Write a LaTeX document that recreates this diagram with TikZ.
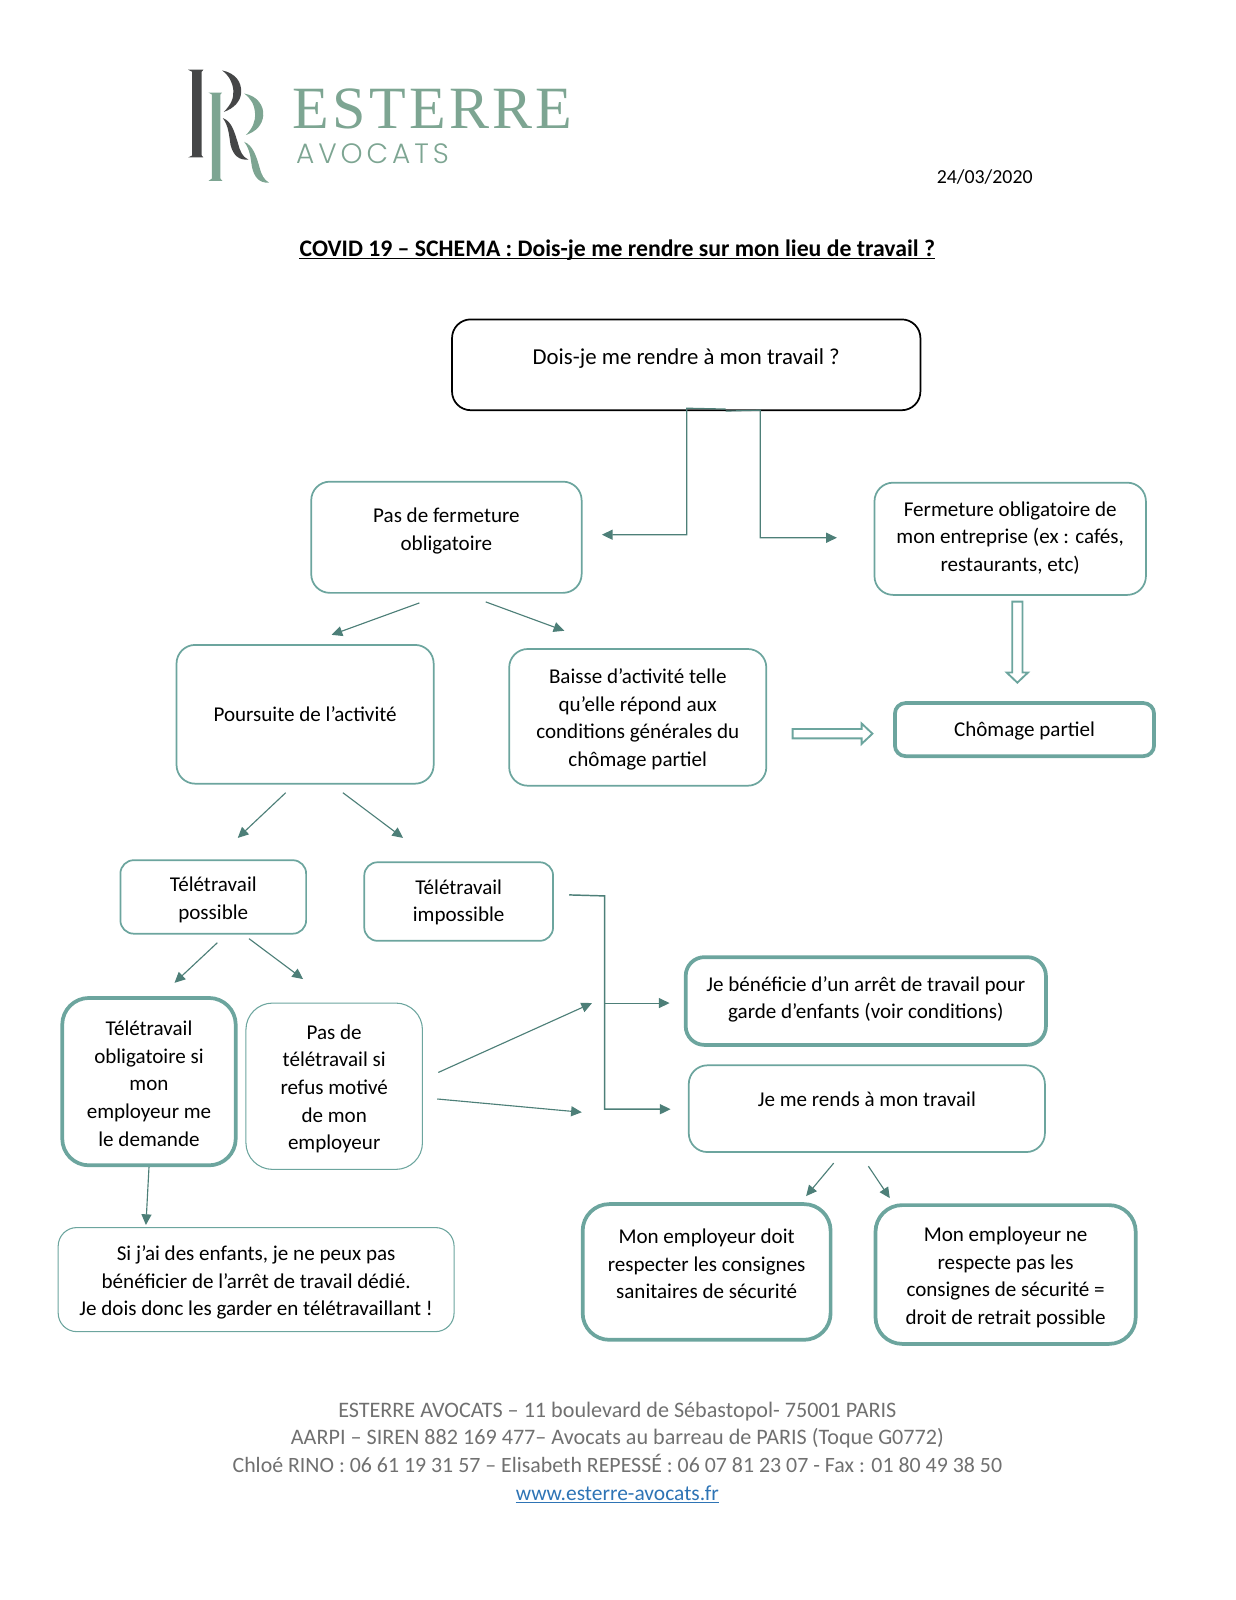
\documentclass[tikz,border=0pt]{standalone}
\usepackage{fontspec}
\setmainfont{Carlito}
\newfontfamily\logoserif[LetterSpace=5.5]{Liberation Serif}
\newfontfamily\logosans[LetterSpace=14,UprightFont=* Light]{Poppins}
\usetikzlibrary{arrows.meta,calc}
\definecolor{teal1}{HTML}{6CA59E}
\definecolor{arrowc}{HTML}{4D7F78}
\definecolor{logog}{HTML}{7DA592}
\definecolor{logod}{HTML}{454647}
\definecolor{footg}{HTML}{707070}
\definecolor{linkb}{HTML}{2E74B5}
% \bx[style]{name}{x1}{y1}{x2}{y2}{text shift}{text}
\newcommand{\bx}[8][]{%
  \node[#1,minimum width={(#5-#3)*0.7654pt},minimum height={(#6-#4)*0.7654pt},
        label={[txt,yshift={-(#7)*0.7654pt}]center:{#8}}] (#2) at ({(#3+#5)/2},{(#4+#6)/2}) {};}
\tikzset{
  base/.style={draw,rounded corners=14pt,inner sep=0pt,line width=1.1pt},
  thin box/.style={base,draw=teal1,line width=1.3pt},
  hair box/.style={base,draw=teal1,line width=0.8pt},
  thick box/.style={base,draw=teal1,line width=2.8pt},
  black box/.style={base,draw=black,line width=1.3pt},
  txt/.style={align=center,inner sep=0pt,text=black,font=\fontsize{15.8}{20.7}\selectfont},
  arr/.style={draw=arrowc,line width=0.85pt,-{Triangle[length=8pt,width=7.5pt]}},
  hollow/.style={draw=teal1,line width=1.4pt,fill=white,line join=miter},
  foot/.style={anchor=base,text=footg,font=\fontsize{16.6}{20}\selectfont,inner sep=0pt},
}
\begin{document}
\begin{tikzpicture}[x=0.7654pt,y=-0.7654pt]
\useasboundingbox (0,0) rectangle (1211,1568);
% logo
\begin{scope}[shift={(156.0,49)},x=0.2551pt,y=-0.2551pt]
  \fill[logod] (85,58) -- (130,58) -- (125,64) -- (125,310) -- (130,316) -- (85,316) -- (97,310) -- (97,64) -- cycle;
  \fill[logod] (185,60) .. controls (225,68) and (243,95) .. (241,125) .. controls (240,150) and (220,172) .. (190,182) .. controls (212,160) and (220,140) .. (218,118) .. controls (216,95) and (205,75) .. (185,60) -- cycle;
  \fill[logod] (187,200) .. controls (215,210) and (222,245) .. (232,275) .. controls (238,298) and (245,315) .. (262,322) .. controls (235,325) and (218,310) .. (210,280) .. controls (205,250) and (205,225) .. (187,200) -- cycle;
  \fill[logog] (145,125) -- (185,125) -- (180,131) -- (180,378) -- (186,385) -- (145,385) -- (155,378) -- (155,131) -- cycle;
  \fill[logog] (250,128) .. controls (290,135) and (308,165) .. (306,192) .. controls (304,220) and (285,240) .. (255,250) .. controls (275,230) and (283,210) .. (282,187) .. controls (280,160) and (270,143) .. (250,128) -- cycle;
  \fill[logog] (250,270) .. controls (275,280) and (285,310) .. (295,345) .. controls (300,365) and (308,382) .. (323,390) .. controls (295,392) and (280,375) .. (273,345) .. controls (268,315) and (268,295) .. (250,270) -- cycle;
\end{scope}
\node[inner sep=0pt,text=logog,font=\logoserif\fontsize{45}{45}\selectfont] (logoname) at (424,107) {ESTERRE};
\node[inner sep=0pt,text=logog,font=\logosans\fontsize{21}{21}\selectfont] (logosub) at (365,151) {AVOCATS};
% heading
\node[anchor=base,font=\fontsize{14.9}{20}\selectfont,inner sep=0pt] (date) at (965,180) {24/03/2020};
\node[anchor=base,font=\fontsize{17.8}{20}\selectfont\bfseries,inner sep=0pt] (title) at (605,251) {COVID 19 – SCHEMA : Dois-je me rendre sur mon lieu de travail ?};
\draw[line width=0.9pt] ([yshift=-2pt]title.base west) -- ([yshift=-2pt]title.base east);
% boxes
\bx[black box]{top}{443}{313}{902}{402}{-6}{\fontsize{17.1}{20.7}\selectfont Dois-je me rendre à mon travail ?}
\bx[thin box]{pasferm}{305}{472}{570}{581}{-6}{Pas de fermeture\\obligatoire}
\bx[thin box]{ferm}{857}{473}{1123}{583}{-1}{Fermeture obligatoire de\\mon entreprise (ex : cafés,\\restaurants, etc)}
\bx[thin box]{pours}{173}{632}{425}{768}{0}{Poursuite de l’activité}
\bx[thin box]{baisse}{499}{636}{751}{770}{2}{Baisse d’activité telle\\qu’elle répond aux\\conditions générales du\\chômage partiel}
\bx[thick box,rounded corners=8pt]{chom}{877}{689}{1131}{741}{1}{Chômage partiel}
\bx[thin box,rounded corners=10pt]{telposs}{118}{843}{300}{915}{3}{Télétravail\\possible}
\bx[thin box,rounded corners=10pt]{telimp}{357}{845}{542}{922}{1}{Télétravail\\impossible}
\bx[thick box]{arret}{672}{938}{1025}{1024}{-1.5}{Je bénéficie d’un arrêt de travail pour\\garde d’enfants (voir conditions)}
\bx[thin box]{rends}{675}{1044}{1024}{1129}{-9}{Je me rends à mon travail}
\bx[thick box,rounded corners=20pt]{telobl}{61}{978}{231}{1142}{2}{Télétravail\\obligatoire si\\mon\\employeur me\\le demande}
\bx[hair box,rounded corners=20pt]{pasdetel}{241}{983}{414}{1146}{2.5}{Pas de\\télétravail si\\refus motivé\\de mon\\employeur}
\bx[hair box]{enfants}{57}{1203}{445}{1305}{3}{Si j’ai des enfants, je ne peux pas\\bénéficier de l’arrêt de travail dédié.\\Je dois donc les garder en télétravaillant !}
\bx[thick box,rounded corners=20pt]{resp}{571}{1180}{814}{1313}{-8}{Mon employeur doit\\respecter les consignes\\sanitaires de sécurité}
\bx[thick box,rounded corners=20pt]{nresp}{858}{1181}{1113}{1317}{3}{Mon employeur ne\\respecte pas les\\consignes de sécurité =\\droit de retrait possible}
% connectors
\coordinate (split) at ($(top.south)+(38.5,-2)$);
\draw[arr] (split) -- (673,400) -- (673,524) -- ($(pasferm.east)+(19,-2.5)$);
\draw[arr] ($(split)+(0,2)$) -- (745,402) -- (745,527) -- ($(ferm.west)+(-36,-1)$);
\draw[arr] ($(pasferm.south)+(-26.5,9)$) -- ($(pours.north)+(26,-9)$);
\draw[arr] ($(pasferm.south)+(38.5,8)$) -- ($(baisse.north)+(-72,-17)$);
\draw[arr] ($(pours.south)+(-19,8)$) -- ($(telposs.north)+(24,-21)$);
\draw[arr] ($(pours.south)+(37,8)$) -- ($(telimp.north)+(-54.5,-23)$);
\draw[arr] ($(telposs.south)+(4,8)$) -- ($(telobl.north)+(25,-13)$);
\draw[arr] ($(telposs.south)+(35,4)$) -- ($(pasdetel.north)+(-30.5,-23)$);
\coordinate (junc) at (592.5,983);
\draw[arr,line width=1.1pt] ($(telimp.east)+(15,-6.5)$) -- (592.5,878) -- (592.5,1087) -- ($(rends.west)+(-17,0.5)$);
\draw[arr] (junc) -- ($(arret.west)+(-14,2)$);
\draw[arr] ($(pasdetel.east)+(15,-13.5)$) -- ($(arret.west)+(-90,2)$);
\draw[arr] ($(pasdetel.east)+(14,12.5)$) -- ($(rends.west)+(-104,3.5)$);
\draw[arr] (telobl.south) -- ($(enfants.north)+(-108,-2)$);
\draw[arr] ($(rends.south)+(-32.5,10)$) -- ($(resp.north)+(97.5,-6)$);
\draw[arr] ($(rends.south)+(1.5,13)$) -- ($(nresp.north)+(-113.5,-5)$);
% hollow arrows
\coordinate (hd) at (997,589.6);
\draw[hollow] ($(hd)+(-5,0)$) -- ($(hd)+(5,0)$) -- ($(hd)+(5,69.4)$) -- ($(hd)+(10.5,69.4)$) -- ($(hd)+(0,79.4)$) -- ($(hd)+(-10.5,69.4)$) -- ($(hd)+(-5,69.4)$) -- cycle;
\coordinate (hr) at (776.8,719);
\draw[hollow] ($(hr)+(0,-4.6)$) -- ($(hr)+(67.6,-4.6)$) -- ($(hr)+(67.6,-10)$) -- ($(hr)+(78.2,0)$) -- ($(hr)+(67.6,10)$) -- ($(hr)+(67.6,4.6)$) -- ($(hr)+(0,4.6)$) -- cycle;
% footer
\node[foot] (f1) at (605,1389) {ESTERRE AVOCATS – 11 boulevard de Sébastopol- 75001 PARIS};
\node[foot] (f2) at (605,1416) {AARPI – SIREN 882 169 477– Avocats au barreau de PARIS (Toque G0772)};
\node[foot,font=\fontsize{16.4}{20}\selectfont] (f3) at (605,1443) {Chloé RINO : 06 61 19 31 57 – Elisabeth REPESSÉ : 06 07 81 23 07 - Fax : 01 80 49 38 50};
\node[foot,text=linkb,font=\fontsize{16.1}{20}\selectfont] (f4) at (605,1470) {www.esterre-avocats.fr};
\draw[linkb,line width=0.7pt] ([yshift=-2pt]f4.base west) -- ([yshift=-2pt]f4.base east);
\end{tikzpicture}
\end{document}
